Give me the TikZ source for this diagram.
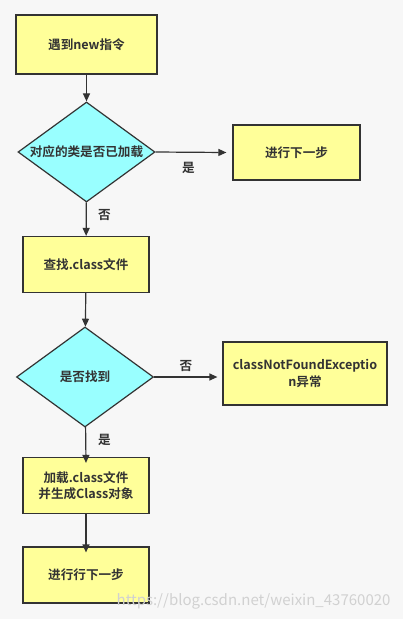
\documentclass[tikz,border=0pt]{standalone}
\usepackage{fontspec}
\setmainfont{Noto Sans CJK SC}[BoldFont={Noto Sans CJK SC Bold}]
\usetikzlibrary{shapes.geometric,arrows.meta}
\definecolor{boxyellow}{HTML}{FFFF99}
\definecolor{decisioncyan}{HTML}{99FFFF}
\definecolor{edgegray}{HTML}{333333}
\tikzset{
  stepbox/.style={draw=edgegray, line width=1.2pt, fill=boxyellow, minimum width=#1, minimum height=56pt, inner sep=0pt, align=center, font=\bfseries\fontsize{12.6}{16.5}\selectfont, text=edgegray},
  stepbox/.default=126pt,
  decision/.style={diamond, draw=edgegray, line width=1.2pt, fill=decisioncyan, aspect=1.37, minimum width=137pt, minimum height=100pt, inner sep=0pt, font=\bfseries\fontsize{12.6}{16}\selectfont, text=edgegray},
  flow/.style={draw=edgegray, line width=1.2pt, -{Triangle[length=8pt,width=7pt]}},
  answer/.style={font=\bfseries\fontsize{12.6}{14}\selectfont, text=edgegray}
}
\begin{document}
\begin{tikzpicture}[x=1pt,y=-1pt]
\fill[white!97!black] (0,0) rectangle (403,619);
\useasboundingbox (0,0) rectangle (403,619);
% main column
\node[stepbox=141pt, minimum height=59pt] (newop) at (86.5,44.5) {遇到new指令};
\node[decision] (loaded) at (86.5,152) {对应的类是否已加载};
\node[stepbox] (findclass) at (86,264.5) {查找.class文件};
\node[decision] (found) at (85,377) {是否找到};
\node[stepbox] (loadclass) at (86,485.5) {加载.class文件\\并生成Class对象};
\node[stepbox] (nextstep) at (86,575) {进行行下一步};
% side boxes
\node[stepbox=127pt, minimum height=55pt] (skip) at (296.5,152.5) {进行下一步};
\node[stepbox=164pt, minimum height=63pt, text width=158pt] (notfound) at (305,373.5) {classNotFoundExceptio\\n异常};
% connectors
\draw[flow] (newop) -- (loaded);
\draw[flow] (loaded.east) -- ([xshift=-6pt]skip.west);
\draw[flow] (loaded) -- (findclass);
\draw[flow] (findclass) -- (found);
\draw[flow] (found.east) -- ([xshift=-5pt]notfound.west |- found.east);
\draw[flow] (found) -- ([yshift=-6pt]loadclass.north);
\draw[flow] (loadclass) -- ([yshift=-6pt]nextstep.north);
% answers
\node[answer] (yes1) at (188.5,168) {是};
\node[answer] (no1) at (104.5,215) {否};
\node[answer] (no2) at (186,366) {否};
\node[answer] (yes2) at (104.5,440) {是};
% watermark
\node[text=black!18, font=\fontsize{15}{15}\selectfont, anchor=east] (mark) at (394,601) {https://blog.csdn.net/weixin\_43760020};
\end{tikzpicture}
\end{document}
